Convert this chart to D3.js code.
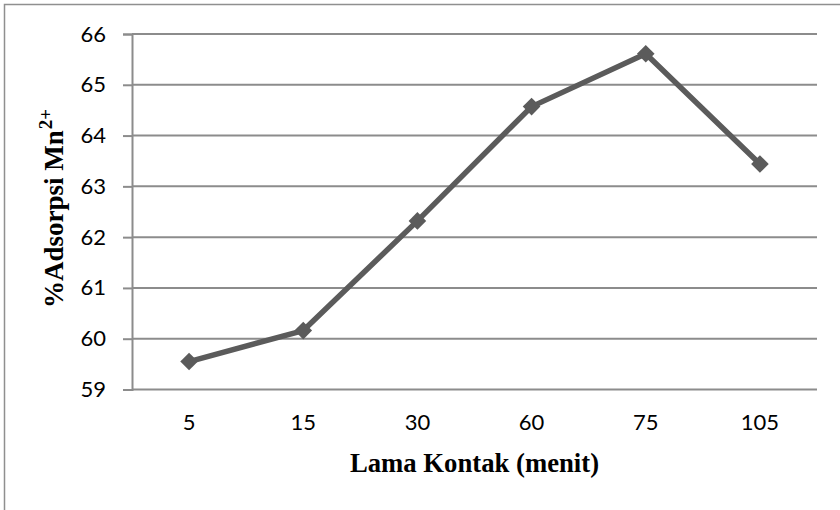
<!DOCTYPE html>
<html>
<head>
<meta charset="utf-8">
<script src="https://cdn.jsdelivr.net/npm/d3@7"></script>
<style>
  html, body { margin: 0; padding: 0; background: #fff; }
  svg { display: block; }
</style>
</head>
<body>
<svg id="chart" width="840" height="510"></svg>
<script>
const categories = ["5", "15", "30", "60", "75", "105"];
const values = [59.55, 60.16, 62.32, 64.57, 65.61, 63.44];
const yTicks = [59, 60, 61, 62, 63, 64, 65, 66];
const xTitle = "Lama Kontak (menit)";
const yTitleMain = "%Adsorpsi Mn";
const yTitleSup = "2+";

(function () {
const svg = d3.select("#chart");
const pL = 132, pR = 817, pT = 34, pB = 389.5;
const gridColor = "#8c8c8c";
const lineColor = "#5b5b5b";

// outer chart border
svg.append("rect")
  .attr("x", 4.5).attr("y", 4.5)
  .attr("width", 900).attr("height", 700)
  .attr("fill", "none").attr("stroke", "#8f8f8f").attr("stroke-width", 1.5);

const x = d3.scaleBand().domain(categories).range([pL, pR]).paddingInner(0).paddingOuter(0);
const y = d3.scaleLinear().domain([59, 66]).range([pB, pT]);

// gridlines
svg.append("g").selectAll("line").data(yTicks).join("line")
  .attr("x1", pL).attr("x2", pR)
  .attr("y1", d => y(d)).attr("y2", d => y(d))
  .attr("stroke", gridColor).attr("stroke-width", 2);

// y axis
const yAxis = svg.append("g")
  .attr("transform", `translate(${pL},0)`)
  .call(d3.axisLeft(y).tickValues(yTicks).tickSize(9).tickPadding(17).tickFormat(d3.format("d")));
yAxis.select(".domain").attr("stroke", gridColor).attr("stroke-width", 2);
yAxis.selectAll(".tick line").attr("stroke", gridColor).attr("stroke-width", 2);
yAxis.selectAll(".tick text")
  .attr("font-family", "Lato, 'Open Sans', sans-serif")
  .attr("font-size", 22).attr("fill", "#000");

// x axis
const xAxis = svg.append("g")
  .attr("transform", `translate(0,${pB})`)
  .call(d3.axisBottom(x).tickSize(0).tickPadding(0));
xAxis.select(".domain").remove();
xAxis.selectAll(".tick text")
  .attr("dy", null)
  .attr("y", 35)
  .attr("dominant-baseline", "middle")
  .attr("font-family", "Lato, 'Open Sans', sans-serif")
  .attr("font-size", 22).attr("fill", "#000");

// line
const cx = d => x(d) + x.bandwidth() / 2;
const line = d3.line().x((d, i) => cx(categories[i])).y(d => y(d));
svg.append("path").datum(values)
  .attr("d", line)
  .attr("fill", "none").attr("stroke", lineColor).attr("stroke-width", 5.5)
  .attr("stroke-linejoin", "round");

// diamond markers
const diamond = d3.symbol().type(d3.symbolSquare).size(155);
svg.append("g").selectAll("path").data(values).join("path")
  .attr("d", diamond)
  .attr("transform", (d, i) => `translate(${cx(categories[i])},${y(d)}) rotate(45)`)
  .attr("fill", lineColor);

// x title
svg.append("text")
  .attr("x", (pL + pR) / 2).attr("y", 472)
  .attr("text-anchor", "middle")
  .attr("font-family", "'Liberation Serif', 'Times New Roman', serif")
  .attr("font-weight", "bold").attr("font-size", 26.7).attr("fill", "#000")
  .text(xTitle);

// y title
const yt = svg.append("text")
  .attr("transform", `translate(63,${(311 + 106) / 2}) rotate(-90)`)
  .attr("text-anchor", "middle")
  .attr("font-family", "'Liberation Serif', 'Times New Roman', serif")
  .attr("font-weight", "bold").attr("font-size", 27).attr("fill", "#000");
yt.append("tspan").text(yTitleMain);
yt.append("tspan").attr("font-size", 19).attr("dy", -11).attr("dx", 1).text(yTitleSup);
})();
</script>
</body>
</html>
